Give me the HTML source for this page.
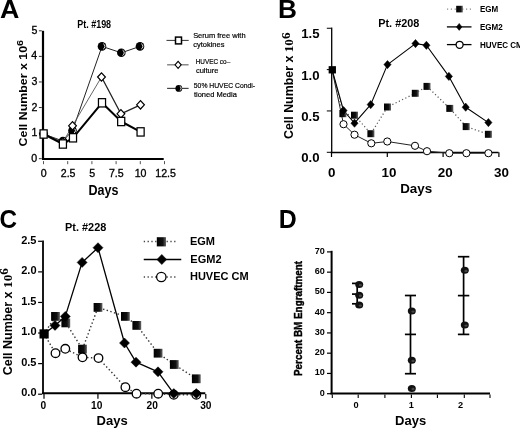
<!DOCTYPE html>
<html><head><meta charset="utf-8"><title>Figure</title>
<style>html,body{margin:0;padding:0;background:#fff;}svg{display:block;will-change:transform;}text{font-family:"Liberation Sans",sans-serif;}</style>
</head><body><svg width="520" height="428" viewBox="0 0 520 428"><defs><linearGradient id="g1" x1="0" x2="1" y1="0" y2="0"><stop offset="0" stop-color="#000"/><stop offset="0.65" stop-color="#111"/><stop offset="1" stop-color="#666"/></linearGradient></defs>
<text transform="matrix(1.00753,0,0,1,-0.005,18.066)" font-family="Liberation Sans" font-weight="bold" font-size="26.618" fill="#000" >A</text>
<text transform="matrix(0.99991,0,0,1,277.964,17.800)" font-family="Liberation Sans" font-weight="bold" font-size="26.232" fill="#000" >B</text>
<text transform="matrix(0.91800,0,0,1,-0.572,227.635)" font-family="Liberation Sans" font-weight="bold" font-size="26.479" fill="#000" >C</text>
<text transform="matrix(0.96053,0,0,1,278.856,227.500)" font-family="Liberation Sans" font-weight="bold" font-size="25.942" fill="#000" >D</text>
<text transform="matrix(0.87217,0,0,1,77.272,27.797)" font-family="Liberation Sans" font-weight="bold" font-size="10.282" fill="#000" >Pt. #198</text>
<text transform="matrix(0.97688,0,0,1,378.239,26.989)" font-family="Liberation Sans" font-weight="bold" font-size="11.127" fill="#000" >Pt. #208</text>
<text transform="matrix(0.95753,0,0,1,65.035,230.586)" font-family="Liberation Sans" font-weight="bold" font-size="11.408" fill="#000" >Pt. #228</text>
<text transform="matrix(0.83626,0,0,1,88.522,194.850)" font-family="Liberation Sans" font-weight="bold" font-size="15.000" fill="#000" >Days</text>
<text transform="matrix(1.03789,0,0,1,400.164,193.093)" font-family="Liberation Sans" font-weight="bold" font-size="12.889" fill="#000" >Days</text>
<text transform="matrix(1.09567,0,0,1,96.588,424.603)" font-family="Liberation Sans" font-weight="bold" font-size="11.889" fill="#000" >Days</text>
<text transform="matrix(1.08553,0,0,1,395.088,424.680)" font-family="Liberation Sans" font-weight="bold" font-size="12.000" fill="#000" >Days</text>
<text transform="matrix(0,-1.14492,1,0,26.692,146.396)" font-family="Liberation Sans" font-weight="bold" font-size="10.833" fill="#000" >Cell Number x 10<tspan font-size="9.425" dy="-3.683">6</tspan></text>
<text transform="matrix(0,-1.04253,1,0,293.281,138.996)" font-family="Liberation Sans" font-weight="bold" font-size="11.900" fill="#000" >Cell Number x <tspan font-family="Liberation Serif" font-size="12.614">10</tspan><tspan font-family="Liberation Serif" font-size="12.614" dy="-3.451">6</tspan></text>
<text transform="matrix(0,-1.03971,1,0,12.180,375.299)" font-family="Liberation Sans" font-weight="bold" font-size="12.000" fill="#000" >Cell Number x <tspan font-family="Liberation Serif" font-size="12.720">10</tspan><tspan font-family="Liberation Serif" font-size="12.720" dy="-4.080">6</tspan></text>
<text transform="matrix(0,-0.92946,1,0,302.166,375.992)" font-family="Liberation Sans" font-weight="bold" font-size="10.638" fill="#000" stroke="#000" stroke-width="0.426">Percent BM Engraftment</text>
<line x1="43.00" y1="30.80" x2="43.00" y2="159.50" stroke="#000" stroke-width="2.2" />
<line x1="42.00" y1="158.90" x2="163.70" y2="158.90" stroke="#000" stroke-width="2.0" />
<line x1="38.90" y1="158.70" x2="41.80" y2="158.70" stroke="#333" stroke-width="1" />
<line x1="38.90" y1="133.12" x2="41.80" y2="133.12" stroke="#333" stroke-width="1" />
<line x1="38.90" y1="107.54" x2="41.80" y2="107.54" stroke="#333" stroke-width="1" />
<line x1="38.90" y1="81.96" x2="41.80" y2="81.96" stroke="#333" stroke-width="1" />
<line x1="38.90" y1="56.38" x2="41.80" y2="56.38" stroke="#333" stroke-width="1" />
<line x1="38.90" y1="30.80" x2="41.80" y2="30.80" stroke="#333" stroke-width="1" />
<line x1="43.50" y1="161.10" x2="43.50" y2="164.20" stroke="#555" stroke-width="1" />
<line x1="67.70" y1="161.10" x2="67.70" y2="164.20" stroke="#555" stroke-width="1" />
<line x1="91.90" y1="161.10" x2="91.90" y2="164.20" stroke="#555" stroke-width="1" />
<line x1="116.10" y1="161.10" x2="116.10" y2="164.20" stroke="#555" stroke-width="1" />
<line x1="140.30" y1="161.10" x2="140.30" y2="164.20" stroke="#555" stroke-width="1" />
<line x1="164.50" y1="161.10" x2="164.50" y2="164.20" stroke="#555" stroke-width="1" />
<text transform="matrix(1.00000,0,0,1,31.288,161.657)" font-family="Liberation Sans" font-weight="normal" font-size="10.600" fill="#000" stroke="#000" stroke-width="0.318">0</text>
<text transform="matrix(1.00000,0,0,1,31.394,136.077)" font-family="Liberation Sans" font-weight="normal" font-size="10.600" fill="#000" stroke="#000" stroke-width="0.318">1</text>
<text transform="matrix(1.00000,0,0,1,31.394,110.550)" font-family="Liberation Sans" font-weight="normal" font-size="10.600" fill="#000" stroke="#000" stroke-width="0.318">2</text>
<text transform="matrix(1.00000,0,0,1,31.394,84.917)" font-family="Liberation Sans" font-weight="normal" font-size="10.600" fill="#000" stroke="#000" stroke-width="0.318">3</text>
<text transform="matrix(1.00000,0,0,1,31.182,59.390)" font-family="Liberation Sans" font-weight="normal" font-size="10.600" fill="#000" stroke="#000" stroke-width="0.318">4</text>
<text transform="matrix(1.00000,0,0,1,31.394,33.704)" font-family="Liberation Sans" font-weight="normal" font-size="10.600" fill="#000" stroke="#000" stroke-width="0.318">5</text>
<text transform="matrix(1.00000,0,0,1,40.632,176.694)" font-family="Liberation Sans" font-weight="normal" font-size="10.600" fill="#000" stroke="#000" stroke-width="0.318">0</text>
<text transform="matrix(1.00000,0,0,1,60.780,176.694)" font-family="Liberation Sans" font-weight="normal" font-size="10.600" fill="#000" stroke="#000" stroke-width="0.318">2.5</text>
<text transform="matrix(1.00000,0,0,1,89.185,176.694)" font-family="Liberation Sans" font-weight="normal" font-size="10.600" fill="#000" stroke="#000" stroke-width="0.318">5</text>
<text transform="matrix(1.00000,0,0,1,108.980,176.694)" font-family="Liberation Sans" font-weight="normal" font-size="10.600" fill="#000" stroke="#000" stroke-width="0.318">7.5</text>
<text transform="matrix(1.00000,0,0,1,134.705,176.694)" font-family="Liberation Sans" font-weight="normal" font-size="10.600" fill="#000" stroke="#000" stroke-width="0.318">10</text>
<text transform="matrix(1.00000,0,0,1,155.306,176.694)" font-family="Liberation Sans" font-weight="normal" font-size="10.600" fill="#000" stroke="#000" stroke-width="0.318">12.5</text>
<polyline points="43.60,134.00 62.90,141.00 72.50,130.60 102.00,46.40 121.30,52.80 140.00,46.40" fill="none" stroke="#222" stroke-width="1.0" stroke-linejoin="round" />
<polyline points="43.60,134.00 62.90,142.00 72.50,125.80 101.50,77.00" fill="none" stroke="#555" stroke-width="0.9" stroke-linejoin="round" />
<polyline points="101.50,77.00 120.90,113.80 140.50,104.80" fill="none" stroke="#222" stroke-width="1.3" stroke-linejoin="round" />
<polyline points="43.60,134.00 62.90,144.00 73.00,137.80 102.00,102.80 121.20,121.50 140.60,131.90" fill="none" stroke="#000" stroke-width="2.0" stroke-linejoin="round" />
<circle cx="43.60" cy="134.00" r="4.30" fill="#000"/><path d="M44.84,131.35 A2.92,2.92 0 0 1 44.84,136.65" fill="none" stroke="#eee" stroke-width="1.0"/>
<circle cx="62.90" cy="141.00" r="4.30" fill="#000"/><path d="M64.14,138.35 A2.92,2.92 0 0 1 64.14,143.65" fill="none" stroke="#eee" stroke-width="1.0"/>
<circle cx="72.50" cy="130.60" r="4.30" fill="#000"/><path d="M73.74,127.95 A2.92,2.92 0 0 1 73.74,133.25" fill="none" stroke="#eee" stroke-width="1.0"/>
<circle cx="102.00" cy="46.40" r="4.30" fill="#000"/><path d="M103.24,43.75 A2.92,2.92 0 0 1 103.24,49.05" fill="none" stroke="#eee" stroke-width="1.0"/>
<circle cx="121.30" cy="52.80" r="4.30" fill="#000"/><path d="M122.54,50.15 A2.92,2.92 0 0 1 122.54,55.45" fill="none" stroke="#eee" stroke-width="1.0"/>
<circle cx="140.00" cy="46.40" r="4.30" fill="#000"/><path d="M141.24,43.75 A2.92,2.92 0 0 1 141.24,49.05" fill="none" stroke="#eee" stroke-width="1.0"/>
<polygon points="39.70,134.00 43.60,129.80 47.50,134.00 43.60,138.20" fill="#fff" stroke="#000" stroke-width="1.2"/>
<polygon points="59.00,142.00 62.90,137.80 66.80,142.00 62.90,146.20" fill="#fff" stroke="#000" stroke-width="1.2"/>
<polygon points="68.60,125.80 72.50,121.60 76.40,125.80 72.50,130.00" fill="#fff" stroke="#000" stroke-width="1.2"/>
<polygon points="97.60,77.00 101.50,72.80 105.40,77.00 101.50,81.20" fill="#fff" stroke="#000" stroke-width="1.2"/>
<polygon points="117.00,113.80 120.90,109.60 124.80,113.80 120.90,118.00" fill="#fff" stroke="#000" stroke-width="1.2"/>
<polygon points="136.60,104.80 140.50,100.60 144.40,104.80 140.50,109.00" fill="#fff" stroke="#000" stroke-width="1.2"/>
<rect x="40.05" y="129.85" width="7.10" height="8.30" fill="#fff" stroke="#000" stroke-width="1.25"/>
<rect x="59.35" y="139.85" width="7.10" height="8.30" fill="#fff" stroke="#000" stroke-width="1.25"/>
<rect x="69.45" y="133.65" width="7.10" height="8.30" fill="#fff" stroke="#000" stroke-width="1.25"/>
<rect x="98.45" y="98.65" width="7.10" height="8.30" fill="#fff" stroke="#000" stroke-width="1.25"/>
<rect x="117.65" y="117.35" width="7.10" height="8.30" fill="#fff" stroke="#000" stroke-width="1.25"/>
<rect x="137.05" y="127.75" width="7.10" height="8.30" fill="#fff" stroke="#000" stroke-width="1.25"/>
<line x1="166.50" y1="40.40" x2="188.70" y2="40.40" stroke="#333" stroke-width="1" />
<rect x="175.50" y="37.10" width="6.00" height="6.80" fill="#fff" stroke="#000" stroke-width="1.5"/>
<line x1="167.10" y1="64.80" x2="188.60" y2="64.80" stroke="#777" stroke-width="1.3" />
<polygon points="175.00,64.80 178.10,61.30 181.20,64.80 178.10,68.30" fill="#fff" stroke="#000" stroke-width="1.1"/>
<line x1="167.10" y1="88.40" x2="188.60" y2="88.40" stroke="#444" stroke-width="1.2" />
<circle cx="178.80" cy="88.40" r="3.40" fill="#000"/><path d="M179.78,86.30 A2.31,2.31 0 0 1 179.78,90.50" fill="none" stroke="#eee" stroke-width="1.0"/>
<text transform="matrix(0.95000,0,0,1,193.125,38.400)" font-family="Liberation Sans" font-weight="normal" font-size="7.900" fill="#000" stroke="#000" stroke-width="0.198">Serum free with</text>
<text transform="matrix(0.95000,0,0,1,193.200,46.900)" font-family="Liberation Sans" font-weight="normal" font-size="7.900" fill="#000" stroke="#000" stroke-width="0.198">cytokines</text>
<text transform="matrix(0.81051,0,0,1,195.688,64.300)" font-family="Liberation Sans" font-weight="normal" font-size="7.900" fill="#000" stroke="#000" stroke-width="0.198">HUVEC co–</text>
<text transform="matrix(0.95000,0,0,1,195.900,73.000)" font-family="Liberation Sans" font-weight="normal" font-size="7.900" fill="#000" stroke="#000" stroke-width="0.198">culture</text>
<text transform="matrix(0.86138,0,0,1,193.828,88.200)" font-family="Liberation Sans" font-weight="normal" font-size="7.900" fill="#000" stroke="#000" stroke-width="0.198">50% HUVEC Condi-</text>
<text transform="matrix(0.95000,0,0,1,193.950,96.700)" font-family="Liberation Sans" font-weight="normal" font-size="7.900" fill="#000" stroke="#000" stroke-width="0.198">tioned Media</text>
<line x1="331.70" y1="27.40" x2="331.70" y2="153.20" stroke="#000" stroke-width="1.3" />
<line x1="330.70" y1="152.60" x2="498.50" y2="152.60" stroke="#000" stroke-width="1.5" />
<line x1="326.80" y1="152.30" x2="331.00" y2="152.30" stroke="#000" stroke-width="1" />
<line x1="326.80" y1="110.95" x2="331.00" y2="110.95" stroke="#000" stroke-width="1" />
<line x1="326.80" y1="69.60" x2="331.00" y2="69.60" stroke="#000" stroke-width="1" />
<line x1="326.80" y1="28.25" x2="331.00" y2="28.25" stroke="#000" stroke-width="1" />
<line x1="331.50" y1="152.30" x2="331.50" y2="157.00" stroke="#000" stroke-width="1.2" />
<line x1="387.30" y1="152.30" x2="387.30" y2="157.00" stroke="#000" stroke-width="1.2" />
<line x1="443.10" y1="152.30" x2="443.10" y2="157.00" stroke="#000" stroke-width="1.2" />
<line x1="498.90" y1="152.30" x2="498.90" y2="157.00" stroke="#000" stroke-width="1.2" />
<text transform="matrix(1.00000,0,0,1,301.280,162.454)" font-family="Liberation Sans" font-weight="bold" font-size="13.200" fill="#000" >0.0</text>
<text transform="matrix(1.00000,0,0,1,301.148,121.104)" font-family="Liberation Sans" font-weight="bold" font-size="13.200" fill="#000" >0.5</text>
<text transform="matrix(1.00000,0,0,1,301.280,79.754)" font-family="Liberation Sans" font-weight="bold" font-size="13.200" fill="#000" >1.0</text>
<text transform="matrix(1.00000,0,0,1,301.148,38.338)" font-family="Liberation Sans" font-weight="bold" font-size="13.200" fill="#000" >1.5</text>
<text transform="matrix(1.00000,0,0,1,328.115,177.166)" font-family="Liberation Sans" font-weight="bold" font-size="13.400" fill="#000" >0</text>
<text transform="matrix(1.00000,0,0,1,381.429,177.166)" font-family="Liberation Sans" font-weight="bold" font-size="13.400" fill="#000" >10</text>
<text transform="matrix(1.00000,0,0,1,437.830,177.166)" font-family="Liberation Sans" font-weight="bold" font-size="13.400" fill="#000" >20</text>
<text transform="matrix(1.00000,0,0,1,494.097,177.166)" font-family="Liberation Sans" font-weight="bold" font-size="13.400" fill="#000" >30</text>
<polyline points="332.00,69.50 343.50,124.20 354.50,134.70 371.30,143.30 387.30,141.50 415.00,145.80 427.00,151.20 449.30,153.20 466.40,153.20 488.40,153.20" fill="none" stroke="#222" stroke-width="1.0" stroke-linejoin="round" />
<polyline points="332.00,69.50 342.90,113.70 354.50,115.20 370.90,133.70 387.50,107.00 415.30,93.30 427.00,86.40 449.80,108.40 466.20,126.60 488.40,134.30" fill="none" stroke="#555" stroke-width="1.2" stroke-linejoin="round" stroke-dasharray="1.2,2.4"/>
<polyline points="332.00,69.50 343.50,110.50 354.50,123.20 370.70,104.60 387.50,64.60 415.50,43.60 426.40,45.30 448.90,76.40 465.70,107.20 488.40,122.60" fill="none" stroke="#000" stroke-width="1.1" stroke-linejoin="round" />
<circle cx="343.50" cy="124.20" r="3.60" fill="#fff" stroke="#000" stroke-width="1.0"/>
<circle cx="354.50" cy="134.70" r="3.60" fill="#fff" stroke="#000" stroke-width="1.0"/>
<circle cx="371.30" cy="143.30" r="3.60" fill="#fff" stroke="#000" stroke-width="1.0"/>
<circle cx="387.30" cy="141.50" r="3.60" fill="#fff" stroke="#000" stroke-width="1.0"/>
<circle cx="415.00" cy="145.80" r="3.60" fill="#fff" stroke="#000" stroke-width="1.0"/>
<circle cx="427.00" cy="151.20" r="3.60" fill="#fff" stroke="#000" stroke-width="1.0"/>
<circle cx="449.30" cy="153.20" r="3.60" fill="#fff" stroke="#000" stroke-width="1.0"/>
<circle cx="466.40" cy="153.20" r="3.60" fill="#fff" stroke="#000" stroke-width="1.0"/>
<circle cx="488.40" cy="153.20" r="3.60" fill="#fff" stroke="#000" stroke-width="1.0"/>
<rect x="339.40" y="110.20" width="7.00" height="7.00" fill="url(#g1)"/>
<rect x="351.00" y="111.70" width="7.00" height="7.00" fill="url(#g1)"/>
<rect x="367.40" y="130.20" width="7.00" height="7.00" fill="url(#g1)"/>
<rect x="384.00" y="103.50" width="7.00" height="7.00" fill="url(#g1)"/>
<rect x="411.80" y="89.80" width="7.00" height="7.00" fill="url(#g1)"/>
<rect x="423.50" y="82.90" width="7.00" height="7.00" fill="url(#g1)"/>
<rect x="446.30" y="104.90" width="7.00" height="7.00" fill="url(#g1)"/>
<rect x="462.70" y="123.10" width="7.00" height="7.00" fill="url(#g1)"/>
<rect x="484.90" y="130.80" width="7.00" height="7.00" fill="url(#g1)"/>
<polygon points="339.90,110.50 343.50,106.40 347.10,110.50 343.50,114.60" fill="#000" stroke="#000" stroke-width="0.5"/>
<polygon points="350.90,123.20 354.50,119.10 358.10,123.20 354.50,127.30" fill="#000" stroke="#000" stroke-width="0.5"/>
<polygon points="367.10,104.60 370.70,100.50 374.30,104.60 370.70,108.70" fill="#000" stroke="#000" stroke-width="0.5"/>
<polygon points="383.90,64.60 387.50,60.50 391.10,64.60 387.50,68.70" fill="#000" stroke="#000" stroke-width="0.5"/>
<polygon points="411.90,43.60 415.50,39.50 419.10,43.60 415.50,47.70" fill="#000" stroke="#000" stroke-width="0.5"/>
<polygon points="422.80,45.30 426.40,41.20 430.00,45.30 426.40,49.40" fill="#000" stroke="#000" stroke-width="0.5"/>
<polygon points="445.30,76.40 448.90,72.30 452.50,76.40 448.90,80.50" fill="#000" stroke="#000" stroke-width="0.5"/>
<polygon points="462.10,107.20 465.70,103.10 469.30,107.20 465.70,111.30" fill="#000" stroke="#000" stroke-width="0.5"/>
<polygon points="484.80,122.60 488.40,118.50 492.00,122.60 488.40,126.70" fill="#000" stroke="#000" stroke-width="0.5"/>
<rect x="328.65" y="66.15" width="7.30" height="7.30" fill="#000"/>
<line x1="447.00" y1="9.10" x2="472.00" y2="9.10" stroke="#888" stroke-width="1.2" stroke-dasharray="1.2,2.6"/>
<rect x="456.20" y="5.80" width="6.60" height="6.60" fill="url(#g1)"/>
<line x1="446.90" y1="26.90" x2="471.50" y2="26.90" stroke="#000" stroke-width="1.3" />
<polygon points="456.40,26.90 459.20,23.40 462.00,26.90 459.20,30.40" fill="#000" stroke="#000" stroke-width="0.5"/>
<line x1="446.90" y1="44.60" x2="471.50" y2="44.60" stroke="#000" stroke-width="1.3" />
<circle cx="459.60" cy="44.80" r="3.50" fill="#fff" stroke="#000" stroke-width="1.3"/>
<text transform="matrix(0.97000,0,0,1,479.936,11.517)" font-family="Liberation Sans" font-weight="bold" font-size="8.300" fill="#000" >EGM</text>
<text transform="matrix(0.97000,0,0,1,479.936,29.717)" font-family="Liberation Sans" font-weight="bold" font-size="8.300" fill="#000" >EGM2</text>
<text transform="matrix(0.97000,0,0,1,479.936,47.617)" font-family="Liberation Sans" font-weight="bold" font-size="8.300" fill="#000" >HUVEC CM</text>
<line x1="43.00" y1="240.60" x2="43.00" y2="394.00" stroke="#000" stroke-width="1.8" />
<line x1="42.00" y1="393.20" x2="205.30" y2="393.20" stroke="#000" stroke-width="2.0" />
<line x1="38.10" y1="394.20" x2="42.00" y2="394.20" stroke="#000" stroke-width="1.2" />
<line x1="38.10" y1="363.62" x2="42.00" y2="363.62" stroke="#000" stroke-width="1.2" />
<line x1="38.10" y1="333.04" x2="42.00" y2="333.04" stroke="#000" stroke-width="1.2" />
<line x1="38.10" y1="302.46" x2="42.00" y2="302.46" stroke="#000" stroke-width="1.2" />
<line x1="38.10" y1="271.88" x2="42.00" y2="271.88" stroke="#000" stroke-width="1.2" />
<line x1="38.10" y1="241.30" x2="42.00" y2="241.30" stroke="#000" stroke-width="1.2" />
<line x1="44.00" y1="394.00" x2="44.00" y2="398.70" stroke="#000" stroke-width="1.2" />
<line x1="97.93" y1="394.00" x2="97.93" y2="398.70" stroke="#000" stroke-width="1.2" />
<line x1="151.86" y1="394.00" x2="151.86" y2="398.70" stroke="#000" stroke-width="1.2" />
<line x1="205.79" y1="394.00" x2="205.79" y2="398.70" stroke="#000" stroke-width="1.2" />
<text transform="matrix(1.00000,0,0,1,21.250,396.495)" font-family="Liberation Sans" font-weight="bold" font-size="11.000" fill="#000" >0.0</text>
<text transform="matrix(1.00000,0,0,1,21.140,365.915)" font-family="Liberation Sans" font-weight="bold" font-size="11.000" fill="#000" >0.5</text>
<text transform="matrix(1.00000,0,0,1,21.250,335.335)" font-family="Liberation Sans" font-weight="bold" font-size="11.000" fill="#000" >1.0</text>
<text transform="matrix(1.00000,0,0,1,21.140,304.700)" font-family="Liberation Sans" font-weight="bold" font-size="11.000" fill="#000" >1.5</text>
<text transform="matrix(1.00000,0,0,1,21.250,274.175)" font-family="Liberation Sans" font-weight="bold" font-size="11.000" fill="#000" >2.0</text>
<text transform="matrix(1.00000,0,0,1,21.140,243.595)" font-family="Liberation Sans" font-weight="bold" font-size="11.000" fill="#000" >2.5</text>
<text transform="matrix(1.00000,0,0,1,40.495,408.898)" font-family="Liberation Sans" font-weight="bold" font-size="10.200" fill="#000" >0</text>
<text transform="matrix(1.00000,0,0,1,91.037,408.898)" font-family="Liberation Sans" font-weight="bold" font-size="10.200" fill="#000" >10</text>
<text transform="matrix(1.00000,0,0,1,146.490,408.898)" font-family="Liberation Sans" font-weight="bold" font-size="10.200" fill="#000" >20</text>
<text transform="matrix(1.00000,0,0,1,200.141,408.898)" font-family="Liberation Sans" font-weight="bold" font-size="10.200" fill="#000" >30</text>
<polyline points="44.00,333.90 55.50,353.20 65.30,348.80 82.50,357.30 98.50,358.10 125.40,387.20 136.50,393.70 158.20,393.70 173.80,394.80 196.30,394.80" fill="none" stroke="#333" stroke-width="1.4" stroke-linejoin="round" stroke-dasharray="1.4,2.4"/>
<polyline points="44.00,333.90 55.50,316.40 65.80,322.90 82.50,349.10 98.00,307.40 125.40,316.40 136.80,325.40 158.10,353.20 174.30,364.50 196.30,378.80" fill="none" stroke="#333" stroke-width="1.4" stroke-linejoin="round" stroke-dasharray="1.4,2.4"/>
<polyline points="44.00,333.90 55.00,325.40 65.30,316.40 82.10,262.40 98.00,247.70 124.50,343.00 136.00,362.20 158.00,371.80 173.80,393.60 196.30,393.60" fill="none" stroke="#000" stroke-width="1.3" stroke-linejoin="round" />
<rect x="51.10" y="312.00" width="8.80" height="8.80" fill="url(#g1)"/>
<rect x="61.40" y="318.50" width="8.80" height="8.80" fill="url(#g1)"/>
<rect x="78.10" y="344.70" width="8.80" height="8.80" fill="url(#g1)"/>
<rect x="93.60" y="303.00" width="8.80" height="8.80" fill="url(#g1)"/>
<rect x="121.00" y="312.00" width="8.80" height="8.80" fill="url(#g1)"/>
<rect x="132.40" y="321.00" width="8.80" height="8.80" fill="url(#g1)"/>
<rect x="153.70" y="348.80" width="8.80" height="8.80" fill="url(#g1)"/>
<rect x="169.90" y="360.10" width="8.80" height="8.80" fill="url(#g1)"/>
<rect x="191.90" y="374.40" width="8.80" height="8.80" fill="url(#g1)"/>
<circle cx="55.50" cy="353.20" r="4.30" fill="#fff" stroke="#000" stroke-width="1.3"/>
<circle cx="65.30" cy="348.80" r="4.30" fill="#fff" stroke="#000" stroke-width="1.3"/>
<circle cx="82.50" cy="357.30" r="4.30" fill="#fff" stroke="#000" stroke-width="1.3"/>
<circle cx="98.50" cy="358.10" r="4.30" fill="#fff" stroke="#000" stroke-width="1.3"/>
<circle cx="125.40" cy="387.20" r="4.30" fill="#fff" stroke="#000" stroke-width="1.3"/>
<circle cx="136.50" cy="393.70" r="4.30" fill="#fff" stroke="#000" stroke-width="1.3"/>
<circle cx="158.20" cy="393.70" r="4.30" fill="#fff" stroke="#000" stroke-width="1.3"/>
<circle cx="173.80" cy="394.80" r="4.30" fill="#fff" stroke="#000" stroke-width="1.3"/>
<circle cx="196.30" cy="394.80" r="4.30" fill="#fff" stroke="#000" stroke-width="1.3"/>
<polygon points="50.00,325.40 55.00,320.40 60.00,325.40 55.00,330.40" fill="#000" stroke="#000" stroke-width="0.5"/>
<polygon points="60.30,316.40 65.30,311.40 70.30,316.40 65.30,321.40" fill="#000" stroke="#000" stroke-width="0.5"/>
<polygon points="77.10,262.40 82.10,257.40 87.10,262.40 82.10,267.40" fill="#000" stroke="#000" stroke-width="0.5"/>
<polygon points="93.00,247.70 98.00,242.70 103.00,247.70 98.00,252.70" fill="#000" stroke="#000" stroke-width="0.5"/>
<polygon points="119.50,343.00 124.50,338.00 129.50,343.00 124.50,348.00" fill="#000" stroke="#000" stroke-width="0.5"/>
<polygon points="131.00,362.20 136.00,357.20 141.00,362.20 136.00,367.20" fill="#000" stroke="#000" stroke-width="0.5"/>
<polygon points="153.00,371.80 158.00,366.80 163.00,371.80 158.00,376.80" fill="#000" stroke="#000" stroke-width="0.5"/>
<polygon points="168.80,393.60 173.80,388.60 178.80,393.60 173.80,398.60" fill="#000" stroke="#000" stroke-width="0.5"/>
<polygon points="191.30,393.60 196.30,388.60 201.30,393.60 196.30,398.60" fill="#000" stroke="#000" stroke-width="0.5"/>
<rect x="39.50" y="329.30" width="9.20" height="9.20" fill="#000"/>
<line x1="143.75" y1="241.50" x2="177.50" y2="241.50" stroke="#444" stroke-width="1.3" stroke-dasharray="1.3,2.5"/>
<rect x="156.80" y="237.20" width="9.20" height="9.20" fill="url(#g1)"/>
<line x1="143.75" y1="259.50" x2="181.25" y2="259.50" stroke="#000" stroke-width="1.4" />
<polygon points="156.90,259.50 161.80,254.40 166.70,259.50 161.80,264.60" fill="#000" stroke="#000" stroke-width="0.5"/>
<line x1="143.75" y1="277.00" x2="177.50" y2="277.00" stroke="#444" stroke-width="1.3" stroke-dasharray="1.3,2.5"/>
<circle cx="161.30" cy="277.00" r="4.70" fill="#fff" stroke="#000" stroke-width="1.3"/>
<text transform="matrix(1.05000,0,0,1,189.928,244.995)" font-family="Liberation Sans" font-weight="bold" font-size="10.500" fill="#000" >EGM</text>
<text transform="matrix(1.05000,0,0,1,190.328,262.895)" font-family="Liberation Sans" font-weight="bold" font-size="10.500" fill="#000" >EGM2</text>
<text transform="matrix(1.05000,0,0,1,189.928,280.095)" font-family="Liberation Sans" font-weight="bold" font-size="10.500" fill="#000" >HUVEC CM</text>
<line x1="331.60" y1="250.80" x2="331.60" y2="394.40" stroke="#000" stroke-width="2.0" />
<line x1="330.60" y1="393.55" x2="490.00" y2="393.55" stroke="#000" stroke-width="2.0" />
<line x1="327.00" y1="393.70" x2="331.00" y2="393.70" stroke="#000" stroke-width="1.2" />
<line x1="327.00" y1="373.44" x2="331.00" y2="373.44" stroke="#000" stroke-width="1.2" />
<line x1="327.00" y1="353.19" x2="331.00" y2="353.19" stroke="#000" stroke-width="1.2" />
<line x1="327.00" y1="332.93" x2="331.00" y2="332.93" stroke="#000" stroke-width="1.2" />
<line x1="327.00" y1="312.67" x2="331.00" y2="312.67" stroke="#000" stroke-width="1.2" />
<line x1="327.00" y1="292.41" x2="331.00" y2="292.41" stroke="#000" stroke-width="1.2" />
<line x1="327.00" y1="272.16" x2="331.00" y2="272.16" stroke="#000" stroke-width="1.2" />
<line x1="327.00" y1="251.90" x2="331.00" y2="251.90" stroke="#000" stroke-width="1.2" />
<line x1="332.30" y1="394.50" x2="332.30" y2="398.10" stroke="#000" stroke-width="1.1" />
<line x1="358.20" y1="394.50" x2="358.20" y2="398.10" stroke="#000" stroke-width="1.1" />
<line x1="384.90" y1="394.50" x2="384.90" y2="398.10" stroke="#000" stroke-width="1.1" />
<line x1="411.40" y1="394.50" x2="411.40" y2="398.10" stroke="#000" stroke-width="1.1" />
<line x1="437.40" y1="394.50" x2="437.40" y2="398.10" stroke="#000" stroke-width="1.1" />
<line x1="464.30" y1="394.50" x2="464.30" y2="398.10" stroke="#000" stroke-width="1.1" />
<line x1="490.00" y1="394.50" x2="490.00" y2="398.10" stroke="#000" stroke-width="1.1" />
<text transform="matrix(1.08000,0,0,1,319.773,395.597)" font-family="Liberation Sans" font-weight="bold" font-size="8.400" fill="#000" >0</text>
<text transform="matrix(1.08000,0,0,1,314.693,375.340)" font-family="Liberation Sans" font-weight="bold" font-size="8.400" fill="#000" >10</text>
<text transform="matrix(1.08000,0,0,1,314.693,355.083)" font-family="Liberation Sans" font-weight="bold" font-size="8.400" fill="#000" >20</text>
<text transform="matrix(1.08000,0,0,1,314.693,334.826)" font-family="Liberation Sans" font-weight="bold" font-size="8.400" fill="#000" >30</text>
<text transform="matrix(1.08000,0,0,1,314.693,314.569)" font-family="Liberation Sans" font-weight="bold" font-size="8.400" fill="#000" >40</text>
<text transform="matrix(1.08000,0,0,1,314.693,294.312)" font-family="Liberation Sans" font-weight="bold" font-size="8.400" fill="#000" >50</text>
<text transform="matrix(1.08000,0,0,1,314.693,274.055)" font-family="Liberation Sans" font-weight="bold" font-size="8.400" fill="#000" >60</text>
<text transform="matrix(1.08000,0,0,1,314.693,253.798)" font-family="Liberation Sans" font-weight="bold" font-size="8.400" fill="#000" >70</text>
<text transform="matrix(1.00000,0,0,1,353.470,407.808)" font-family="Liberation Sans" font-weight="bold" font-size="9.200" fill="#000" >0</text>
<text transform="matrix(1.00000,0,0,1,408.786,407.900)" font-family="Liberation Sans" font-weight="bold" font-size="9.200" fill="#000" >1</text>
<text transform="matrix(1.00000,0,0,1,458.070,407.900)" font-family="Liberation Sans" font-weight="bold" font-size="9.200" fill="#000" >2</text>
<line x1="357.20" y1="283.40" x2="357.20" y2="303.80" stroke="#000" stroke-width="1.7" /><line x1="352.00" y1="283.40" x2="362.00" y2="283.40" stroke="#000" stroke-width="1.7" /><line x1="352.00" y1="294.10" x2="362.00" y2="294.10" stroke="#000" stroke-width="1.7" /><line x1="352.00" y1="303.80" x2="362.00" y2="303.80" stroke="#000" stroke-width="1.7" />
<line x1="410.50" y1="295.50" x2="410.50" y2="373.70" stroke="#000" stroke-width="1.7" /><line x1="404.90" y1="295.50" x2="416.00" y2="295.50" stroke="#000" stroke-width="1.7" /><line x1="404.90" y1="334.40" x2="416.00" y2="334.40" stroke="#000" stroke-width="1.7" /><line x1="404.90" y1="373.70" x2="416.00" y2="373.70" stroke="#000" stroke-width="1.7" />
<line x1="463.60" y1="256.70" x2="463.60" y2="334.40" stroke="#000" stroke-width="1.7" /><line x1="457.90" y1="256.70" x2="469.30" y2="256.70" stroke="#000" stroke-width="1.7" /><line x1="457.90" y1="295.60" x2="469.30" y2="295.60" stroke="#000" stroke-width="1.7" /><line x1="457.90" y1="334.40" x2="469.30" y2="334.40" stroke="#000" stroke-width="1.7" />
<ellipse cx="359.20" cy="284.50" rx="4.0" ry="3.5" fill="#111"/><ellipse cx="360.40" cy="285.10" rx="1.6" ry="1.2" fill="#444"/>
<ellipse cx="359.20" cy="295.20" rx="4.0" ry="3.5" fill="#111"/><ellipse cx="360.40" cy="295.80" rx="1.6" ry="1.2" fill="#444"/>
<ellipse cx="359.20" cy="305.00" rx="4.0" ry="3.5" fill="#111"/><ellipse cx="360.40" cy="305.60" rx="1.6" ry="1.2" fill="#444"/>
<ellipse cx="411.80" cy="311.00" rx="4.0" ry="3.5" fill="#111"/><ellipse cx="413.00" cy="311.60" rx="1.6" ry="1.2" fill="#444"/>
<ellipse cx="411.80" cy="360.30" rx="4.0" ry="3.5" fill="#111"/><ellipse cx="413.00" cy="360.90" rx="1.6" ry="1.2" fill="#444"/>
<ellipse cx="411.80" cy="388.40" rx="4.0" ry="3.5" fill="#111"/><ellipse cx="413.00" cy="389.00" rx="1.6" ry="1.2" fill="#444"/>
<ellipse cx="464.80" cy="270.30" rx="4.0" ry="3.5" fill="#111"/><ellipse cx="466.00" cy="270.90" rx="1.6" ry="1.2" fill="#444"/>
<ellipse cx="464.80" cy="325.00" rx="4.0" ry="3.5" fill="#111"/><ellipse cx="466.00" cy="325.60" rx="1.6" ry="1.2" fill="#444"/></svg></body></html>
